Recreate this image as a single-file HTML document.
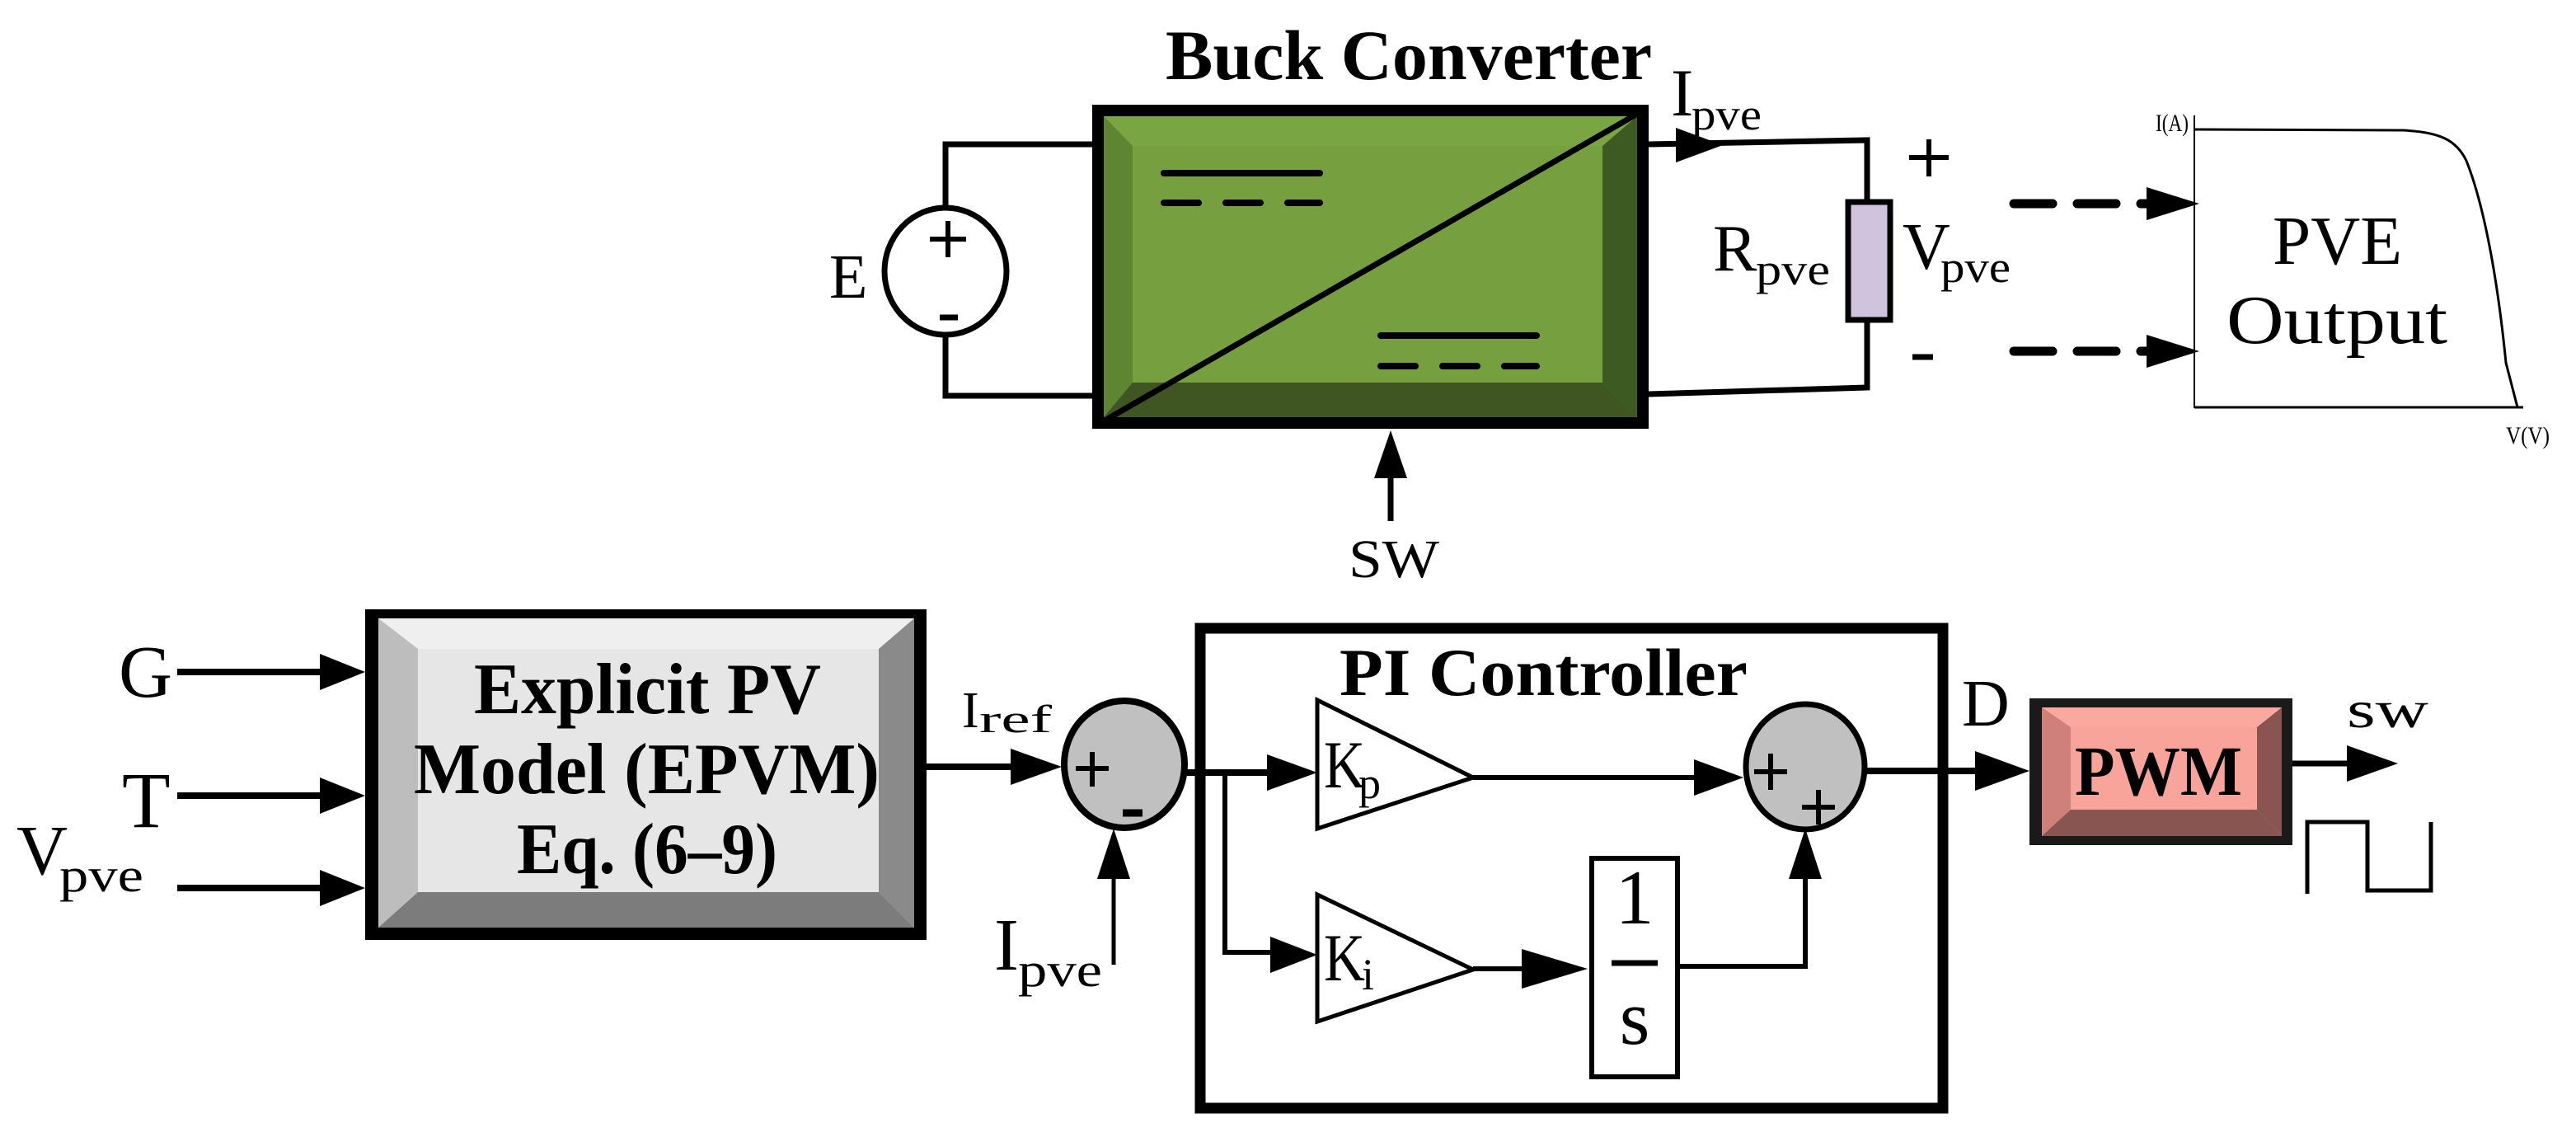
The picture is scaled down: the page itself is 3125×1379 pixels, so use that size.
<!DOCTYPE html>
<html><head><meta charset="utf-8"><style>
html,body{margin:0;padding:0;background:#fff;}
svg{display:block;}
text{font-family:"Liberation Serif",serif;fill:#000;}
</style></head><body>
<svg width="3125" height="1379" viewBox="0 0 3125 1379" xmlns="http://www.w3.org/2000/svg">

<!-- ===== Buck Converter ===== -->
<text x="1414" y="96" font-size="86" font-weight="bold" textLength="590" lengthAdjust="spacingAndGlyphs">Buck Converter</text>
<rect x="1325" y="127" width="675" height="393" fill="#000"/>
<rect x="1339" y="141" width="647" height="365" fill="#76a03f"/>
<polygon points="1339,141 1374,177 1374,464 1339,506" fill="#5e8530"/>
<polygon points="1339,141 1986,141 1944,177 1374,177" fill="#7aa543"/>
<polygon points="1986,141 1944,177 1944,464 1986,506" fill="#3d5a22"/>
<polygon points="1339,506 1374,464 1944,464 1986,506" fill="#3f5623"/>
<line x1="1328" y1="517" x2="1995" y2="133" stroke="#000" stroke-width="7"/>
<line x1="1412" y1="210" x2="1601" y2="210" stroke="#000" stroke-width="8" stroke-linecap="round"/>
<line x1="1412" y1="246" x2="1601" y2="246" stroke="#000" stroke-width="8" stroke-linecap="round" stroke-dasharray="42,33"/>
<line x1="1675" y1="407" x2="1864" y2="407" stroke="#000" stroke-width="8" stroke-linecap="round"/>
<line x1="1675" y1="444" x2="1864" y2="444" stroke="#000" stroke-width="8" stroke-linecap="round" stroke-dasharray="42,33"/>

<!-- E source -->
<polyline points="1147,252 1147,175 1325,175" fill="none" stroke="#000" stroke-width="7"/>
<polyline points="1147,406 1147,480 1325,480" fill="none" stroke="#000" stroke-width="7"/>
<ellipse cx="1147" cy="329" rx="74" ry="77" fill="#fff" stroke="#000" stroke-width="7"/>
<line x1="1150" y1="268" x2="1150" y2="312" stroke="#000" stroke-width="6"/>
<line x1="1128" y1="290" x2="1172" y2="290" stroke="#000" stroke-width="6"/>
<line x1="1140" y1="385" x2="1162" y2="385" stroke="#000" stroke-width="7"/>
<text x="1006" y="361" font-size="76">E</text>

<!-- SW arrow -->
<line x1="1687" y1="632" x2="1687" y2="575" stroke="#000" stroke-width="7"/>
<polygon points="1687,522 1667,580 1707,580" fill="#000"/>
<text x="1636" y="700" font-size="66" textLength="110" lengthAdjust="spacingAndGlyphs">SW</text>

<!-- Output wires -->
<polyline points="2000,175 2265,170 2265,243" fill="none" stroke="#000" stroke-width="7"/>
<polygon points="2090,176 2033,155 2033,197" fill="#000"/>
<polyline points="2000,478 2265,470 2265,389" fill="none" stroke="#000" stroke-width="7"/>
<rect x="2242" y="245" width="51" height="143" fill="#d0c3dd" stroke="#000" stroke-width="7"/>
<text x="2027" y="140" font-size="82">I</text>
<text x="2052" y="157" font-size="54" textLength="85" lengthAdjust="spacingAndGlyphs">pve</text>
<text x="2078" y="328" font-size="80">R</text>
<text x="2130" y="345" font-size="54" textLength="90" lengthAdjust="spacingAndGlyphs">pve</text>
<text x="2308" y="326" font-size="80">V</text>
<text x="2354" y="342" font-size="54" textLength="85" lengthAdjust="spacingAndGlyphs">pve</text>
<line x1="2316" y1="191" x2="2364" y2="191" stroke="#000" stroke-width="6"/>
<line x1="2340" y1="169" x2="2340" y2="214" stroke="#000" stroke-width="6"/>
<line x1="2320" y1="433" x2="2345" y2="433" stroke="#000" stroke-width="7"/>

<!-- dashed arrows -->
<line x1="2443" y1="247" x2="2605" y2="247" stroke="#000" stroke-width="11" stroke-linecap="round" stroke-dasharray="47,30"/>
<polygon points="2668,247 2604,227 2604,267" fill="#000"/>
<line x1="2443" y1="426" x2="2605" y2="426" stroke="#000" stroke-width="11" stroke-linecap="round" stroke-dasharray="47,30"/>
<polygon points="2668,426 2604,406 2604,446" fill="#000"/>

<!-- PVE Output graph -->
<line x1="2662" y1="140" x2="2662" y2="495" stroke="#000" stroke-width="2"/>
<line x1="2662" y1="494" x2="3061" y2="494" stroke="#000" stroke-width="3"/>
<path d="M2662,157 L2915,158 C2960,160 2980,170 2992,195 C3010,240 3028,320 3040,440 L3054,494" fill="none" stroke="#000" stroke-width="3"/>
<text x="2615" y="159" font-size="30" textLength="40" lengthAdjust="spacingAndGlyphs" font-family="Liberation Sans">I(A)</text>
<text x="3040" y="538" font-size="30" textLength="53" lengthAdjust="spacingAndGlyphs" font-family="Liberation Sans">V(V)</text>
<text x="2757" y="320" font-size="84" textLength="157" lengthAdjust="spacingAndGlyphs">PVE</text>
<text x="2701" y="416" font-size="84" textLength="268" lengthAdjust="spacingAndGlyphs">Output</text>

<!-- ===== EPVM block ===== -->
<rect x="443" y="739" width="681" height="401" fill="#000"/>
<rect x="459" y="750" width="650" height="375" fill="#e6e6e6"/>
<polygon points="459,750 1109,750 1066,787 507,787" fill="#efefef"/>
<polygon points="459,750 507,787 507,1082 459,1125" fill="#bdbdbd"/>
<polygon points="1109,750 1066,787 1066,1082 1109,1125" fill="#8a8a8a"/>
<polygon points="459,1125 507,1082 1066,1082 1109,1125" fill="#7c7c7c"/>
<text x="575" y="865" font-size="88" font-weight="bold" textLength="421" lengthAdjust="spacingAndGlyphs">Explicit PV</text>
<text x="502" y="962" font-size="88" font-weight="bold" textLength="565" lengthAdjust="spacingAndGlyphs">Model (EPVM)</text>
<text x="627" y="1059" font-size="88" font-weight="bold" textLength="316" lengthAdjust="spacingAndGlyphs">Eq. (6–9)</text>

<!-- inputs -->
<line x1="215" y1="815" x2="395" y2="815" stroke="#000" stroke-width="8"/>
<polygon points="443,815 388,793 388,837" fill="#000"/>
<line x1="215" y1="965" x2="395" y2="965" stroke="#000" stroke-width="8"/>
<polygon points="443,965 388,943 388,987" fill="#000"/>
<line x1="215" y1="1077" x2="395" y2="1077" stroke="#000" stroke-width="8"/>
<polygon points="443,1077 388,1055 388,1099" fill="#000"/>
<text x="144" y="845" font-size="90">G</text>
<text x="148" y="1003" font-size="96">T</text>
<text x="20" y="1060" font-size="86">V</text>
<text x="72" y="1081" font-size="58" textLength="102" lengthAdjust="spacingAndGlyphs">pve</text>

<!-- Iref -->
<line x1="1124" y1="930" x2="1230" y2="930" stroke="#000" stroke-width="8"/>
<polygon points="1288,930 1226,908 1226,952" fill="#000"/>
<text x="1167" y="882" font-size="62">I</text>
<text x="1188" y="888" font-size="48" textLength="88" lengthAdjust="spacingAndGlyphs">ref</text>

<!-- Sum 1 -->
<ellipse cx="1364" cy="927" rx="73" ry="77" fill="#c0c0c0" stroke="#000" stroke-width="8"/>
<line x1="1305" y1="932" x2="1345" y2="932" stroke="#000" stroke-width="6"/>
<line x1="1325" y1="912" x2="1325" y2="954" stroke="#000" stroke-width="6"/>
<line x1="1362" y1="986" x2="1386" y2="986" stroke="#000" stroke-width="9"/>
<line x1="1351" y1="1170" x2="1351" y2="1060" stroke="#000" stroke-width="5"/>
<polygon points="1351,1005 1331,1066 1371,1066" fill="#000"/>
<text x="1206" y="1176" font-size="90">I</text>
<text x="1235" y="1196" font-size="58" textLength="102" lengthAdjust="spacingAndGlyphs">pve</text>

<!-- ===== PI Controller ===== -->
<rect x="1456" y="762" width="901" height="582" fill="none" stroke="#000" stroke-width="13"/>
<text x="1625" y="843" font-size="82" font-weight="bold" textLength="495" lengthAdjust="spacingAndGlyphs">PI Controller</text>

<line x1="1440" y1="937" x2="1545" y2="937" stroke="#000" stroke-width="8"/>
<polygon points="1598,937 1537,915 1537,959" fill="#000"/>
<polyline points="1486,937 1486,1155 1545,1155" fill="none" stroke="#000" stroke-width="6"/>
<polygon points="1598,1158 1541,1136 1541,1180" fill="#000"/>

<polygon points="1598,849 1787,943 1598,1005" fill="#fff" stroke="#000" stroke-width="5"/>
<text x="1606" y="955" font-size="82" textLength="50" lengthAdjust="spacingAndGlyphs">K</text>
<text x="1648" y="968" font-size="54">p</text>
<polygon points="1598,1085 1787,1176 1598,1239" fill="#fff" stroke="#000" stroke-width="5"/>
<text x="1606" y="1189" font-size="82" textLength="50" lengthAdjust="spacingAndGlyphs">K</text>
<text x="1652" y="1200" font-size="54">i</text>

<line x1="1787" y1="943" x2="2060" y2="943" stroke="#000" stroke-width="6"/>
<polygon points="2115,943 2055,921 2055,965" fill="#000"/>
<line x1="1787" y1="1175" x2="1850" y2="1175" stroke="#000" stroke-width="6"/>
<polygon points="1926,1175 1846,1151 1846,1199" fill="#000"/>

<rect x="1931" y="1041" width="104" height="265" fill="#fff" stroke="#000" stroke-width="6"/>
<text x="1983" y="1120" font-size="94" text-anchor="middle">1</text>
<line x1="1955" y1="1168" x2="2011" y2="1168" stroke="#000" stroke-width="7"/>
<text x="1983" y="1266" font-size="94" text-anchor="middle">s</text>

<polyline points="2038,1172 2190,1172 2190,1060" fill="none" stroke="#000" stroke-width="6"/>
<polygon points="2190,1005 2170,1066 2210,1066" fill="#000"/>

<ellipse cx="2190" cy="930" rx="72" ry="76" fill="#c0c0c0" stroke="#000" stroke-width="7"/>
<line x1="2128" y1="936" x2="2168" y2="936" stroke="#000" stroke-width="6"/>
<line x1="2148" y1="914" x2="2148" y2="958" stroke="#000" stroke-width="6"/>
<line x1="2186" y1="979" x2="2226" y2="979" stroke="#000" stroke-width="6"/>
<line x1="2206" y1="958" x2="2206" y2="1000" stroke="#000" stroke-width="6"/>

<line x1="2262" y1="935" x2="2400" y2="935" stroke="#000" stroke-width="8"/>
<polygon points="2462,935 2396,911 2396,959" fill="#000"/>
<text x="2380" y="880" font-size="80">D</text>

<!-- PWM -->
<rect x="2462" y="847" width="319" height="178" fill="#1a1a1a"/>
<rect x="2477" y="858" width="291" height="156" fill="#f9a49a"/>
<polygon points="2477,858 2768,858 2738,882 2512,882" fill="#fba89f"/>
<polygon points="2477,858 2512,882 2512,982 2477,1014" fill="#d0807a"/>
<polygon points="2768,858 2738,882 2738,982 2768,1014" fill="#8a5550"/>
<polygon points="2477,1014 2512,982 2738,982 2768,1014" fill="#885551"/>
<text x="2517" y="964" font-size="86" font-weight="bold" textLength="203" lengthAdjust="spacingAndGlyphs">PWM</text>
<line x1="2781" y1="926" x2="2850" y2="926" stroke="#000" stroke-width="7"/>
<polygon points="2909,926 2847,904 2847,948" fill="#000"/>
<text x="2847" y="882" font-size="64" textLength="99" lengthAdjust="spacingAndGlyphs">sw</text>
<polyline points="2799,1084 2799,997 2872,997 2872,1080 2949,1080 2949,997" fill="none" stroke="#000" stroke-width="5"/>
</svg>
</body></html>
